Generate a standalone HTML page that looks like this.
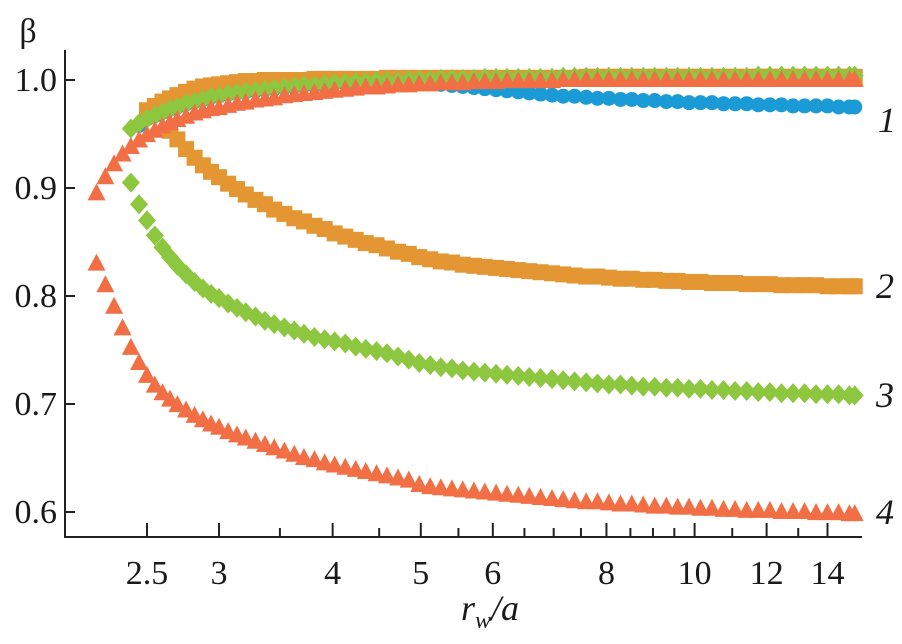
<!DOCTYPE html>
<html><head><meta charset="utf-8"><style>
html,body{margin:0;padding:0;background:#fff;}
svg{display:block;}
svg text{font-family:"Liberation Serif","Times New Roman",serif;fill:#1a1a1a;}
</style></head><body>
<svg id="chart" width="902" height="644">
<g id="marks"></g>
<g id="axes"></g>
<text x="28" y="42" font-size="34" text-anchor="middle">β</text>
<text x="490" y="620" font-size="36" font-style="italic" text-anchor="middle">r<tspan font-size="24" dy="8">w</tspan><tspan dy="-8">/a</tspan></text>
<g font-size="36" font-style="italic">
<text x="878" y="132">1</text>
<text x="876" y="298">2</text>
<text x="876" y="407">3</text>
<text x="876" y="524">4</text>
</g>
</svg>
<script>
const rGrid=[2.20,2.25,2.30,2.35,2.40,2.45,2.50,2.55,2.60,2.65,2.70,2.76,2.82,2.88,2.94,
3.00,3.07,3.14,3.21,3.29,3.37,3.45,3.54,3.63,3.72,3.82,3.92,4.02,4.13,4.24,
4.35,4.47,4.59,4.72,4.85,4.98,5.12,5.26,5.41,5.56,5.72,5.88,6.05,6.22,6.40,
6.58,6.77,6.97,7.17,7.38,7.60,7.82,8.05,8.29,8.53,8.78,9.04,9.31,9.58,9.86,
10.15,10.45,10.76,11.08,11.41,11.75,12.10,12.46,12.83,13.21,13.60,14.00,14.40,14.80,15.00];
const blueUpper=[null,null,null,null,null,.958,.964,.967,.970,.973,.975,.978,.980,.982,.984,
.985,.987,.988,.989,.990,.991,.992,.993,.994,.995,.995,.996,.997,.997,.998,
.998,.998,.999,.999,.999,.998,.997,.996,.995,.994,.993,.992,.991,.990,.989,
.988,.987,.986,.985,.985,.984,.983,.983,.982,.982,.981,.981,.980,.980,.979,
.979,.979,.978,.978,.978,.977,.977,.977,.976,.976,.976,.976,.975,.975,.975];
const orangeUpper=[null,null,null,null,null,null,.972,.976,.980,.983,.986,.989,.992,.994,.995,
.996,.997,.998,.999,.999,1,1,1,1,1,1.001,1.001,1.001,1.001,1.001,
1.001,1.001,1.002,1.002,1.002,1.002,1.002,1.002,1.002,1.002,1.002,1.002,1.002,1.002,1.002,
1.002,1.002,1.002,1.002,1.002,1.003,1.003,1.003,1.003,1.003,1.003,1.003,1.003,1.003,1.003,
1.003,1.003,1.003,1.003,1.003,1.003,1.003,1.003,1.003,1.003,1.003,1.003,1.003,1.003,1.003];
const orangeLower=[null,null,null,null,null,null,null,null,null,.953,.945,.936,.928,.921,.915,
.910,.904,.899,.894,.889,.885,.880,.876,.872,.869,.865,.862,.858,.855,.852,
.849,.847,.844,.841,.839,.836,.834,.832,.831,.829,.828,.827,.826,.825,.824,
.823,.822,.821,.820,.819,.818,.818,.817,.816,.816,.815,.815,.814,.814,.813,
.813,.812,.812,.812,.811,.811,.811,.810,.810,.810,.810,.809,.809,.809,.809];
const greenUpper=[null,null,null,null,.955,.960,.964,.967,.970,.973,.975,.978,.980,.982,.984,
.985,.987,.988,.989,.990,.991,.992,.993,.994,.995,.995,.996,.997,.997,.998,
.998,.999,.999,.999,1,1,1,1.001,1.001,1.001,1.001,1.002,1.002,1.002,1.002,
1.002,1.002,1.002,1.003,1.003,1.003,1.003,1.003,1.003,1.003,1.003,1.003,1.003,1.003,1.003,
1.003,1.003,1.003,1.003,1.003,1.004,1.004,1.004,1.004,1.004,1.004,1.004,1.004,1.004,1.004];
const greenLower=[null,null,null,null,.905,.885,.870,.856,.845,.836,.828,.820,.813,.807,.802,
.798,.793,.789,.785,.781,.777,.774,.771,.768,.765,.762,.760,.758,.756,.753,
.751,.749,.747,.744,.741,.738,.736,.734,.733,.731,.730,.729,.728,.727,.726,
.725,.724,.723,.722,.721,.720,.719,.718,.718,.717,.716,.716,.715,.715,.714,
.714,.713,.713,.712,.712,.711,.711,.710,.710,.710,.709,.709,.709,.708,.708];
const redUpper=[.895,.910,.922,.931,.938,.944,.949,.953,.957,.960,.963,.966,.969,.971,.973,
.974,.976,.978,.979,.981,.982,.983,.985,.986,.987,.988,.989,.990,.991,.992,
.993,.993,.994,.995,.995,.996,.996,.997,.997,.997,.998,.998,.998,.999,.999,
.999,.999,.999,1,1,1,1,1,1,1,1,1,1,1,1,
1,1,1,1,1,1,1,1,1,1,1,1,1,1,1];
const redLower=[.830,.810,.790,.770,.752,.738,.726,.717,.710,.704,.699,.694,.689,.685,.681,
.678,.674,.671,.668,.665,.662,.659,.656,.653,.650,.648,.645,.643,.641,.639,
.637,.635,.633,.631,.629,.625,.623,.622,.621,.620,.619,.618,.617,.616,.615,
.614,.613,.612,.611,.610,.609,.609,.608,.607,.607,.606,.605,.605,.604,.604,
.603,.603,.602,.602,.601,.601,.601,.600,.600,.600,.599,.599,.599,.598,.598];
const yTicks=[0.6,0.7,0.8,0.9,1.0];
const yTickLabels=["0.6","0.7","0.8","0.9","1.0"];
const xMajor=[2.5,3,4,5,6,8,10,12,14];
const xMajorLabels=["2.5","3","4","5","6","8","10","12","14"];
const xMinor=[3.5,4.5,5.5,6.5,7,7.5,8.5,9,9.5,11,13];

const NS="http://www.w3.org/2000/svg";
function X(r){return 147+Math.log(r/2.5)*395;}
function Y(v){return 80+(1-v)*1080;}
function mk(tag,attrs,parent){const e=document.createElementNS(NS,tag);for(const k in attrs)e.setAttribute(k,attrs[k]);parent.appendChild(e);return e;}
const axes=document.getElementById('axes');
const marks=document.getElementById('marks');
const AX=65,AY=537;
let yl=mk('line',{x1:AX,y1:50,x2:AX,y2:AY+1,stroke:'#222','stroke-width':2},axes);


let xl=mk('line',{x1:AX-1,y1:AY,x2:862,y2:AY,stroke:'#222','stroke-width':2},axes);


yTicks.forEach((v,i)=>{
  let t=mk('line',{x1:AX,y1:Y(v),x2:AX+10,y2:Y(v),stroke:'#222','stroke-width':2},axes);
  
  
  let l=mk('text',{x:57,y:Y(v)+11,'font-size':34,'text-anchor':'end'},axes);
  l.textContent=yTickLabels[i];
  
  
});
xMajor.forEach((r,i)=>{
  let t=mk('line',{x1:X(r),y1:AY,x2:X(r),y2:AY-14,stroke:'#222','stroke-width':2},axes);
  
  
  let l=mk('text',{x:X(r),y:584,'font-size':34,'text-anchor':'middle'},axes);
  l.textContent=xMajorLabels[i];
  
  
});
xMinor.forEach(r=>{
  let t=mk('line',{x1:X(r),y1:AY,x2:X(r),y2:AY-9,stroke:'#222','stroke-width':2},axes);
  
  
});
function circle(x,y,c){return mk('circle',{cx:x,cy:y,r:7.5,fill:c},marks);}
function square(x,y,c){return mk('rect',{x:x-8,y:y-8,width:16,height:16,fill:c},marks);}
function diamond(x,y,c){return mk('polygon',{points:`${x},${y-10} ${x+9},${y} ${x},${y+10} ${x-9},${y}`,fill:c},marks);}
function tri(x,y,c){return mk('polygon',{points:`${x},${y-10} ${x+9},${y+7} ${x-9},${y+7}`,fill:c},marks);}
const series=[
  [blueUpper,circle,'#1b9bd5','series-1-marker'],
  [orangeUpper,square,'#e39632','series-2-upper-marker'],
  [orangeLower,square,'#e39632','series-2-marker'],
  [greenUpper,diamond,'#8dc63f','series-3-upper-marker'],
  [greenLower,diamond,'#8dc63f','series-3-marker'],
  [redUpper,tri,'#f26f45','series-4-upper-marker'],
  [redLower,tri,'#f26f45','series-4-marker']
];
series.forEach(([vals,fn,col,name])=>{
  vals.forEach((v,i)=>{
    if(v===null)return;
    const el=fn(X(rGrid[i]),Y(v),col);
    
    
  });
});
</script>
</body></html>
